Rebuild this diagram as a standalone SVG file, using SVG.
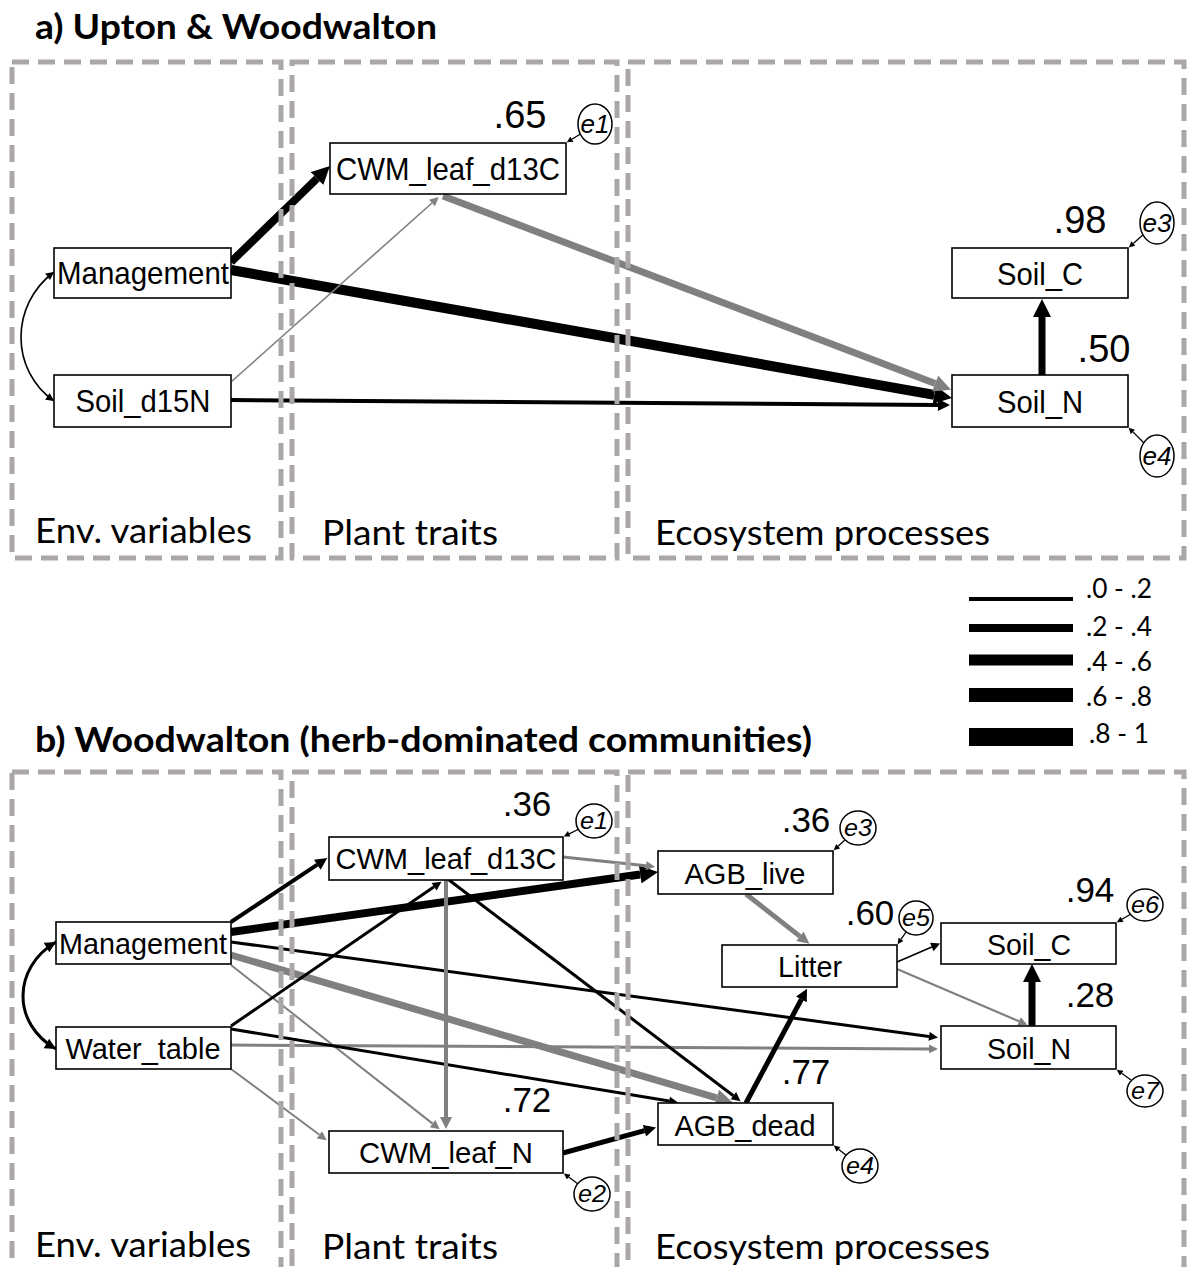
<svg xmlns="http://www.w3.org/2000/svg" width="1192" height="1267" viewBox="0 0 1192 1267">
<style>
.bg{fill:#fff}
.frame{fill:none;stroke:#aba7a7;stroke-width:5;stroke-dasharray:17 9}
.box{fill:#fff;stroke:#000;stroke-width:1.6}
.err{fill:#fff;stroke:#000;stroke-width:1.5}
.lbA{font-family:"Liberation Sans",Arial,sans-serif;font-size:32px;fill:#000;text-anchor:middle}
.lbB{font-family:"Liberation Sans",Arial,sans-serif;font-size:29px;fill:#000;text-anchor:middle}
.numA{font-family:"Liberation Sans",Arial,sans-serif;font-size:38px;fill:#000;text-anchor:middle}
.numB{font-family:"Liberation Sans",Arial,sans-serif;font-size:35px;fill:#000;text-anchor:middle}
.eA{font-family:"Liberation Sans",Arial,sans-serif;font-size:26px;font-style:italic;fill:#000;text-anchor:middle}
.eB{font-family:"Liberation Sans",Arial,sans-serif;font-size:24px;font-style:italic;fill:#000;text-anchor:middle}
.title{font-family:Lato,"Open Sans",sans-serif;font-weight:bold;font-size:35px;fill:#000}
.cat{font-family:Lato,"Open Sans",sans-serif;font-size:35px;fill:#000}
.leg{font-family:Lato,"Open Sans",sans-serif;font-size:27px;fill:#000}
.k{stroke:#000;fill:none}
.g{stroke:#808080;fill:none}
.ea{stroke:#000;stroke-width:1.3;fill:none;marker-end:url(#aE)}
</style>
<defs>
<marker id="aBs" viewBox="0 0 10 10" refX="0" refY="5" markerWidth="12" markerHeight="9" markerUnits="userSpaceOnUse" orient="auto"><path d="M0,0 L10,5 L0,10 z" fill="#000"/></marker>
<marker id="aBm" viewBox="0 0 10 10" refX="0" refY="5" markerWidth="14" markerHeight="12" markerUnits="userSpaceOnUse" orient="auto"><path d="M0,0 L10,5 L0,10 z" fill="#000"/></marker>
<marker id="aBl" viewBox="0 0 10 10" refX="0" refY="5" markerWidth="18" markerHeight="18" markerUnits="userSpaceOnUse" orient="auto"><path d="M0,0 L10,5 L0,10 z" fill="#000"/></marker>
<marker id="aGs" viewBox="0 0 10 10" refX="0" refY="5" markerWidth="12" markerHeight="9" markerUnits="userSpaceOnUse" orient="auto"><path d="M0,0 L10,5 L0,10 z" fill="#808080"/></marker>
<marker id="aGm" viewBox="0 0 10 10" refX="0" refY="5" markerWidth="14" markerHeight="12" markerUnits="userSpaceOnUse" orient="auto"><path d="M0,0 L10,5 L0,10 z" fill="#808080"/></marker>
<marker id="aGl" viewBox="0 0 10 10" refX="0" refY="5" markerWidth="18" markerHeight="17" markerUnits="userSpaceOnUse" orient="auto"><path d="M0,0 L10,5 L0,10 z" fill="#808080"/></marker>
<marker id="aE" viewBox="0 0 10 10" refX="0" refY="5" markerWidth="7" markerHeight="6" markerUnits="userSpaceOnUse" orient="auto"><path d="M0,0 L10,5 L0,10 z" fill="#000"/></marker>
<marker id="cS" viewBox="0 0 10 10" refX="10" refY="5" markerWidth="10" markerHeight="8" markerUnits="userSpaceOnUse" orient="auto-start-reverse"><path d="M0,0 L10,5 L0,10 z" fill="#000"/></marker>
<marker id="cM" viewBox="0 0 10 10" refX="10" refY="5" markerWidth="13" markerHeight="11" markerUnits="userSpaceOnUse" orient="auto-start-reverse"><path d="M0,0 L10,5 L0,10 z" fill="#000"/></marker>
</defs>
<rect class="bg" x="0" y="0" width="1192" height="1267"/>

<!-- titles -->
<text class="title" x="35" y="39" textLength="402" lengthAdjust="spacingAndGlyphs">a) Upton &amp; Woodwalton</text>
<text class="title" x="35" y="752" textLength="777" lengthAdjust="spacingAndGlyphs">b) Woodwalton (herb-dominated communities)</text>

<!-- connectors -->
<g id="connectors">
  <!-- panel a -->
  <path class="k" stroke-width="1.6" d="M54,272 C10,305 10,370 54,401" marker-start="url(#cS)" marker-end="url(#cS)"/>
  <line class="k" stroke-width="8" x1="231" y1="262" x2="317" y2="178.5" marker-end="url(#aBl)"/>
  <line class="k" stroke-width="10" x1="231" y1="270" x2="934.3" y2="394.9" marker-end="url(#aBl)"/>
  <line class="g" stroke-width="1.6" x1="231" y1="382" x2="432" y2="203" marker-end="url(#aGs)"/>
  <line class="k" stroke-width="4" x1="231" y1="400" x2="938" y2="404.9" marker-end="url(#aBm)"/>
  <line class="g" stroke-width="7" x1="443" y1="196" x2="935.2" y2="383.6" marker-end="url(#aGl)"/>
  <line class="k" stroke-width="7" x1="1042" y1="375" x2="1042" y2="317" marker-end="url(#aBl)"/>
  <line class="ea" x1="582" y1="133" x2="571.9" y2="139.2"/>
  <line class="ea" x1="1145" y1="233" x2="1133.3" y2="243.4"/>
  <line class="ea" x1="1145" y1="444" x2="1132.9" y2="431.9"/>
  <!-- panel b -->
  <path class="k" stroke-width="3" d="M56,942 C12,968 12,1024 56,1049" marker-start="url(#cM)" marker-end="url(#cM)"/>
  <line class="k" stroke-width="4" x1="231" y1="922" x2="317.3" y2="864.7" marker-end="url(#aBm)"/>
  <line class="k" stroke-width="8" x1="231" y1="932" x2="640.2" y2="874.5" marker-end="url(#aBl)"/>
  <line class="k" stroke-width="3" x1="231" y1="942" x2="929.1" y2="1036.4" marker-end="url(#aBs)"/>
  <line class="g" stroke-width="7" x1="231" y1="955" x2="716.7" y2="1097.9" marker-end="url(#aGl)"/>
  <line class="g" stroke-width="2" x1="231" y1="965" x2="432.6" y2="1123.6" marker-end="url(#aGs)"/>
  <line class="k" stroke-width="3" x1="231" y1="1026" x2="434.1" y2="886.8" marker-end="url(#aBs)"/>
  <line class="g" stroke-width="3" x1="231" y1="1045" x2="929" y2="1048.9" marker-end="url(#aGs)"/>
  <line class="k" stroke-width="3" x1="231" y1="1029" x2="669.2" y2="1101.1" marker-end="url(#aBs)"/>
  <line class="g" stroke-width="2" x1="231" y1="1069" x2="319.4" y2="1134.8" marker-end="url(#aGs)"/>
  <line class="g" stroke-width="3" x1="563" y1="857" x2="646.1" y2="865.8" marker-end="url(#aGs)"/>
  <line class="g" stroke-width="4" x1="446" y1="880" x2="446" y2="1117" marker-end="url(#aGm)"/>
  <line class="k" stroke-width="3" x1="449" y1="880" x2="733.4" y2="1095.7" marker-end="url(#aBs)"/>
  <line class="k" stroke-width="5" x1="563" y1="1153" x2="644.5" y2="1130.7" marker-end="url(#aBm)"/>
  <line class="g" stroke-width="5" x1="746" y1="894" x2="800" y2="936.4" marker-end="url(#aGm)"/>
  <line class="k" stroke-width="5" x1="746" y1="1103" x2="801.4" y2="999.3" marker-end="url(#aBm)"/>
  <line class="k" stroke-width="1.6" x1="897" y1="962" x2="931.8" y2="947" marker-end="url(#aBs)"/>
  <line class="g" stroke-width="2.2" x1="897" y1="969" x2="1019" y2="1021.3" marker-end="url(#aGs)"/>
  <line class="k" stroke-width="7" x1="1032" y1="1026" x2="1032" y2="982" marker-end="url(#aBl)"/>
  <line class="ea" x1="579" y1="829" x2="569.2" y2="833.8"/>
  <line class="ea" x1="578" y1="1184" x2="568.7" y2="1177.1"/>
  <line class="ea" x1="846" y1="839" x2="838.1" y2="846.3"/>
  <line class="ea" x1="847" y1="1156" x2="838.5" y2="1149.3"/>
  <line class="ea" x1="906" y1="932" x2="901" y2="939.3"/>
  <line class="ea" x1="1131" y1="914" x2="1122" y2="919.3"/>
  <line class="ea" x1="1131" y1="1080" x2="1121.6" y2="1073.2"/>
</g>

<!-- panel a nodes -->
<g id="a_management"><rect class="box" x="54" y="248" width="177" height="50"/><text class="lbA" x="143" y="284" textLength="172" lengthAdjust="spacingAndGlyphs">Management</text></g>
<g id="a_soil_d15n"><rect class="box" x="54" y="375" width="177" height="52"/><text class="lbA" x="143" y="412" textLength="135" lengthAdjust="spacingAndGlyphs">Soil_d15N</text></g>
<g id="a_cwm_d13c"><rect class="box" x="330" y="143" width="236" height="51"/><text class="lbA" x="448" y="180" textLength="224" lengthAdjust="spacingAndGlyphs">CWM_leaf_d13C</text><text class="numA" x="520" y="128">.65</text></g>
<g id="a_soil_c"><rect class="box" x="952" y="248" width="176" height="50"/><text class="lbA" x="1040" y="285" textLength="86" lengthAdjust="spacingAndGlyphs">Soil_C</text><text class="numA" x="1080" y="233">.98</text></g>
<g id="a_soil_n"><rect class="box" x="952" y="375" width="176" height="52"/><text class="lbA" x="1040" y="413" textLength="86" lengthAdjust="spacingAndGlyphs">Soil_N</text><text class="numA" x="1104" y="362">.50</text></g>
<g id="a_e1"><ellipse class="err" cx="595" cy="124" rx="17" ry="20"/><text class="eA" x="595" y="133" textLength="29" lengthAdjust="spacingAndGlyphs">e1</text></g>
<g id="a_e3"><ellipse class="err" cx="1157" cy="223" rx="17" ry="21"/><text class="eA" x="1157" y="232" textLength="29" lengthAdjust="spacingAndGlyphs">e3</text></g>
<g id="a_e4"><ellipse class="err" cx="1157" cy="456" rx="17" ry="21"/><text class="eA" x="1157" y="465" textLength="29" lengthAdjust="spacingAndGlyphs">e4</text></g>

<!-- panel b nodes -->
<g id="b_management"><rect class="box" x="56" y="922" width="175" height="42"/><text class="lbB" x="143" y="954" textLength="168" lengthAdjust="spacingAndGlyphs">Management</text></g>
<g id="b_water_table"><rect class="box" x="56" y="1027" width="175" height="42"/><text class="lbB" x="143" y="1059" textLength="155" lengthAdjust="spacingAndGlyphs">Water_table</text></g>
<g id="b_cwm_d13c"><rect class="box" x="329" y="837" width="234" height="43"/><text class="lbB" x="446" y="869" textLength="221" lengthAdjust="spacingAndGlyphs">CWM_leaf_d13C</text><text class="numB" x="527" y="816">.36</text></g>
<g id="b_cwm_n"><rect class="box" x="329" y="1131" width="234" height="42"/><text class="lbB" x="446" y="1163" textLength="174" lengthAdjust="spacingAndGlyphs">CWM_leaf_N</text><text class="numB" x="527" y="1112">.72</text></g>
<g id="b_agb_live"><rect class="box" x="658" y="851" width="175" height="43"/><text class="lbB" x="745" y="884" textLength="121" lengthAdjust="spacingAndGlyphs">AGB_live</text><text class="numB" x="806" y="832">.36</text></g>
<g id="b_litter"><rect class="box" x="722" y="945" width="175" height="42"/><text class="lbB" x="810" y="977" textLength="64" lengthAdjust="spacingAndGlyphs">Litter</text><text class="numB" x="870" y="925">.60</text></g>
<g id="b_soil_c"><rect class="box" x="941" y="923" width="175" height="41"/><text class="lbB" x="1029" y="955" textLength="84" lengthAdjust="spacingAndGlyphs">Soil_C</text><text class="numB" x="1090" y="902">.94</text></g>
<g id="b_soil_n"><rect class="box" x="941" y="1026" width="175" height="43"/><text class="lbB" x="1029" y="1059" textLength="84" lengthAdjust="spacingAndGlyphs">Soil_N</text><text class="numB" x="1090" y="1007">.28</text></g>
<g id="b_agb_dead"><rect class="box" x="658" y="1103" width="175" height="42"/><text class="lbB" x="745" y="1136" textLength="141" lengthAdjust="spacingAndGlyphs">AGB_dead</text><text class="numB" x="806" y="1084">.77</text></g>
<g id="b_e1"><ellipse class="err" cx="594" cy="821" rx="18" ry="17"/><text class="eB" x="594" y="829" textLength="28" lengthAdjust="spacingAndGlyphs">e1</text></g>
<g id="b_e2"><ellipse class="err" cx="592" cy="1194" rx="18" ry="17"/><text class="eB" x="592" y="1202" textLength="28" lengthAdjust="spacingAndGlyphs">e2</text></g>
<g id="b_e3"><ellipse class="err" cx="858" cy="828" rx="18" ry="17"/><text class="eB" x="858" y="836" textLength="28" lengthAdjust="spacingAndGlyphs">e3</text></g>
<g id="b_e4"><ellipse class="err" cx="860" cy="1166" rx="18" ry="17"/><text class="eB" x="860" y="1174" textLength="28" lengthAdjust="spacingAndGlyphs">e4</text></g>
<g id="b_e5"><ellipse class="err" cx="916" cy="918" rx="17" ry="17"/><text class="eB" x="916" y="926" textLength="28" lengthAdjust="spacingAndGlyphs">e5</text></g>
<g id="b_e6"><ellipse class="err" cx="1145" cy="905" rx="18" ry="16"/><text class="eB" x="1145" y="913" textLength="28" lengthAdjust="spacingAndGlyphs">e6</text></g>
<g id="b_e7"><ellipse class="err" cx="1145" cy="1091" rx="18" ry="16"/><text class="eB" x="1145" y="1099" textLength="28" lengthAdjust="spacingAndGlyphs">e7</text></g>

<!-- frames -->
<g id="frames">
  <rect class="frame" x="12" y="62" width="269" height="496"/>
  <rect class="frame" x="292" y="62" width="325" height="496"/>
  <rect class="frame" x="628" y="62" width="556" height="496"/>
  <rect class="frame" x="12" y="772" width="269" height="520"/>
  <rect class="frame" x="292" y="772" width="325" height="520"/>
  <rect class="frame" x="628" y="772" width="556" height="520"/>
</g>

<!-- category labels -->
<text class="cat" x="35" y="543" textLength="217" lengthAdjust="spacingAndGlyphs">Env. variables</text>
<text class="cat" x="322" y="545" textLength="176" lengthAdjust="spacingAndGlyphs">Plant traits</text>
<text class="cat" x="655" y="545" textLength="335" lengthAdjust="spacingAndGlyphs">Ecosystem processes</text>
<text class="cat" x="35" y="1257" textLength="216" lengthAdjust="spacingAndGlyphs">Env. variables</text>
<text class="cat" x="322" y="1259" textLength="176" lengthAdjust="spacingAndGlyphs">Plant traits</text>
<text class="cat" x="655" y="1259" textLength="335" lengthAdjust="spacingAndGlyphs">Ecosystem processes</text>

<!-- legend -->
<g id="legend">
  <line stroke="#000" stroke-width="4" x1="969" y1="599" x2="1073" y2="599"/>
  <line stroke="#000" stroke-width="8" x1="969" y1="628" x2="1073" y2="628"/>
  <line stroke="#000" stroke-width="11" x1="969" y1="660" x2="1073" y2="660"/>
  <line stroke="#000" stroke-width="14" x1="969" y1="695" x2="1073" y2="695"/>
  <line stroke="#000" stroke-width="18" x1="969" y1="737" x2="1073" y2="737"/>
  <text class="leg" x="1086" y="598" textLength="66" lengthAdjust="spacingAndGlyphs">.0 - .2</text>
  <text class="leg" x="1086" y="636" textLength="66" lengthAdjust="spacingAndGlyphs">.2 - .4</text>
  <text class="leg" x="1086" y="671" textLength="66" lengthAdjust="spacingAndGlyphs">.4 - .6</text>
  <text class="leg" x="1086" y="706" textLength="66" lengthAdjust="spacingAndGlyphs">.6 - .8</text>
  <text class="leg" x="1089" y="743" textLength="60" lengthAdjust="spacingAndGlyphs">.8 - 1</text>
</g>
</svg>
